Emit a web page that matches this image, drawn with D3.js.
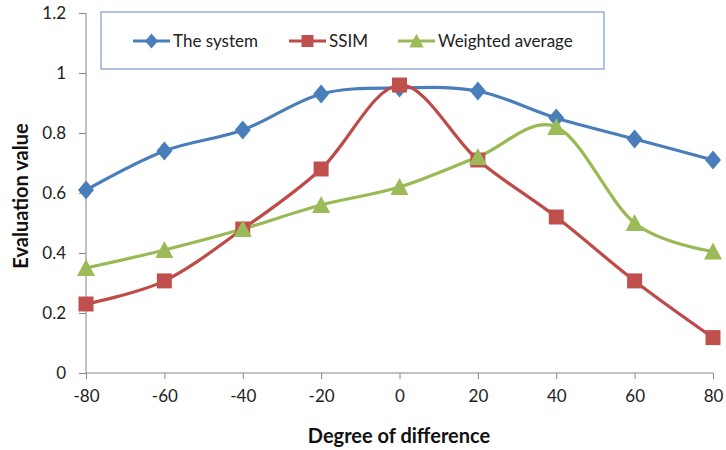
<!DOCTYPE html>
<html>
<head>
<meta charset="utf-8">
<script src="https://cdn.jsdelivr.net/npm/d3@7/dist/d3.min.js"></script>
<style>
  html, body { margin: 0; padding: 0; background: #fff; }
  svg { display: block; font-family: Lato, "Open Sans", sans-serif; }
</style>
</head>
<body>
<svg id="chart" width="726" height="450"></svg>
<script>
// Degree of difference (x categories)
const degrees = [-80, -60, -40, -20, 0, 20, 40, 60, 80];
// Evaluation values per method
const systemValues = [0.61, 0.74, 0.81, 0.93, 0.95, 0.94, 0.85, 0.78, 0.71];
const ssimValues = [0.23, 0.307, 0.48, 0.68, 0.96, 0.71, 0.52, 0.307, 0.118];
const weightedValues = [0.35, 0.41, 0.48, 0.56, 0.62, 0.72, 0.82, 0.50, 0.405];
const seriesNames = ["The system", "SSIM", "Weighted average"];
const yTicks = [0, 0.2, 0.4, 0.6, 0.8, 1, 1.2];
const xTicks = [-80, -60, -40, -20, 0, 20, 40, 60, 80];

const svg = d3.select("#chart");
const x = d3.scaleLinear().domain([-80, 80]).range([86, 713]);
const y = d3.scaleLinear().domain([0, 1.2]).range([373, 13]);

// Marker shapes (scaled by k)
const diamond = k => `M0,${-9.5*k}L${8*k},0L0,${9.5*k}L${-8*k},0Z`;
const square = k => `M${-7.5*k},${-7.5*k}H${7.5*k}V${7.5*k}H${-7.5*k}Z`;
const triangle = k => `M0,${-9*k}L${9*k},${8*k}H${-9*k}Z`;

const series = [
  { name: seriesNames[0], values: systemValues, line: "#4A7EBB", fill: "#4A7EBB", shape: diamond },
  { name: seriesNames[1], values: ssimValues, line: "#BE4B48", fill: "#C0504D", shape: square },
  { name: seriesNames[2], values: weightedValues, line: "#98B954", fill: "#9BBB59", shape: triangle }
];

const tickFont = "17px";
// Axes
const axisColor = "#868686";
const yAxis = svg.append("g").attr("transform", `translate(${x(-80)},0)`)
  .call(d3.axisLeft(y).tickValues(yTicks).tickSize(7).tickPadding(13)
    .tickFormat(d => String(+d.toFixed(1))));
const xAxis = svg.append("g").attr("transform", `translate(0,${y(0)})`)
  .call(d3.axisBottom(x).tickValues(xTicks).tickSize(6).tickPadding(11)
    .tickFormat(d => String(d)));
[yAxis, xAxis].forEach(g => {
  g.select(".domain").attr("stroke", axisColor).attr("stroke-width", 1);
  g.selectAll(".tick line").attr("stroke", axisColor);
  g.selectAll(".tick text").attr("fill", "#222").style("font-size", tickFont)
    .style("font-family", "Lato, 'Open Sans', sans-serif");
});
yAxis.select(".domain").attr("d", `M0,${y(1.2)}V${y(0)}`);
xAxis.select(".domain").attr("d", `M${x(-80)},0H${x(80)}`);

// Axis titles
svg.append("text").attr("x", 399).attr("y", 443).attr("text-anchor", "middle")
  .style("font-size", "20px").style("font-weight", "bold").attr("fill", "#111")
  .text("Degree of difference");
svg.append("text").attr("transform", "translate(28,196) rotate(-90)").attr("text-anchor", "middle")
  .style("font-size", "20px").style("font-weight", "bold").attr("fill", "#111")
  .text("Evaluation value");

// Lines and markers
const line = d3.line().x((d, i) => x(degrees[i])).y(d => y(d)).curve(d3.curveCardinal.tension(0));
series.forEach(s => {
  svg.append("path").datum(s.values).attr("d", line)
    .attr("fill", "none").attr("stroke", s.line).attr("stroke-width", 3.2)
    .attr("stroke-linejoin", "round").attr("stroke-linecap", "round");
});
series.forEach(s => {
  svg.append("g").selectAll("path").data(s.values).join("path")
    .attr("transform", (d, i) => `translate(${x(degrees[i])},${y(d)})`)
    .attr("d", s.shape(1))
    .attr("fill", s.fill);
});

// Legend
const legend = svg.append("g");
legend.append("rect").attr("x", 101).attr("y", 12).attr("width", 503).attr("height", 57)
  .attr("fill", "#fff").attr("stroke", "#7C9DCF").attr("stroke-width", 1.2);
const legendX = [133, 289, 398];
series.forEach((s, i) => {
  const g = legend.append("g").attr("transform", `translate(${legendX[i]},41)`);
  g.append("line").attr("x1", 0).attr("x2", 37).attr("stroke", s.line).attr("stroke-width", 3.2);
  g.append("path").attr("transform", "translate(18.5,0)")
    .attr("d", s.shape(0.8)).attr("fill", s.fill);
  g.append("text").attr("x", 40).attr("dy", "0.35em").style("font-size", tickFont).attr("fill", "#222").text(s.name);
});
</script>
</body>
</html>
